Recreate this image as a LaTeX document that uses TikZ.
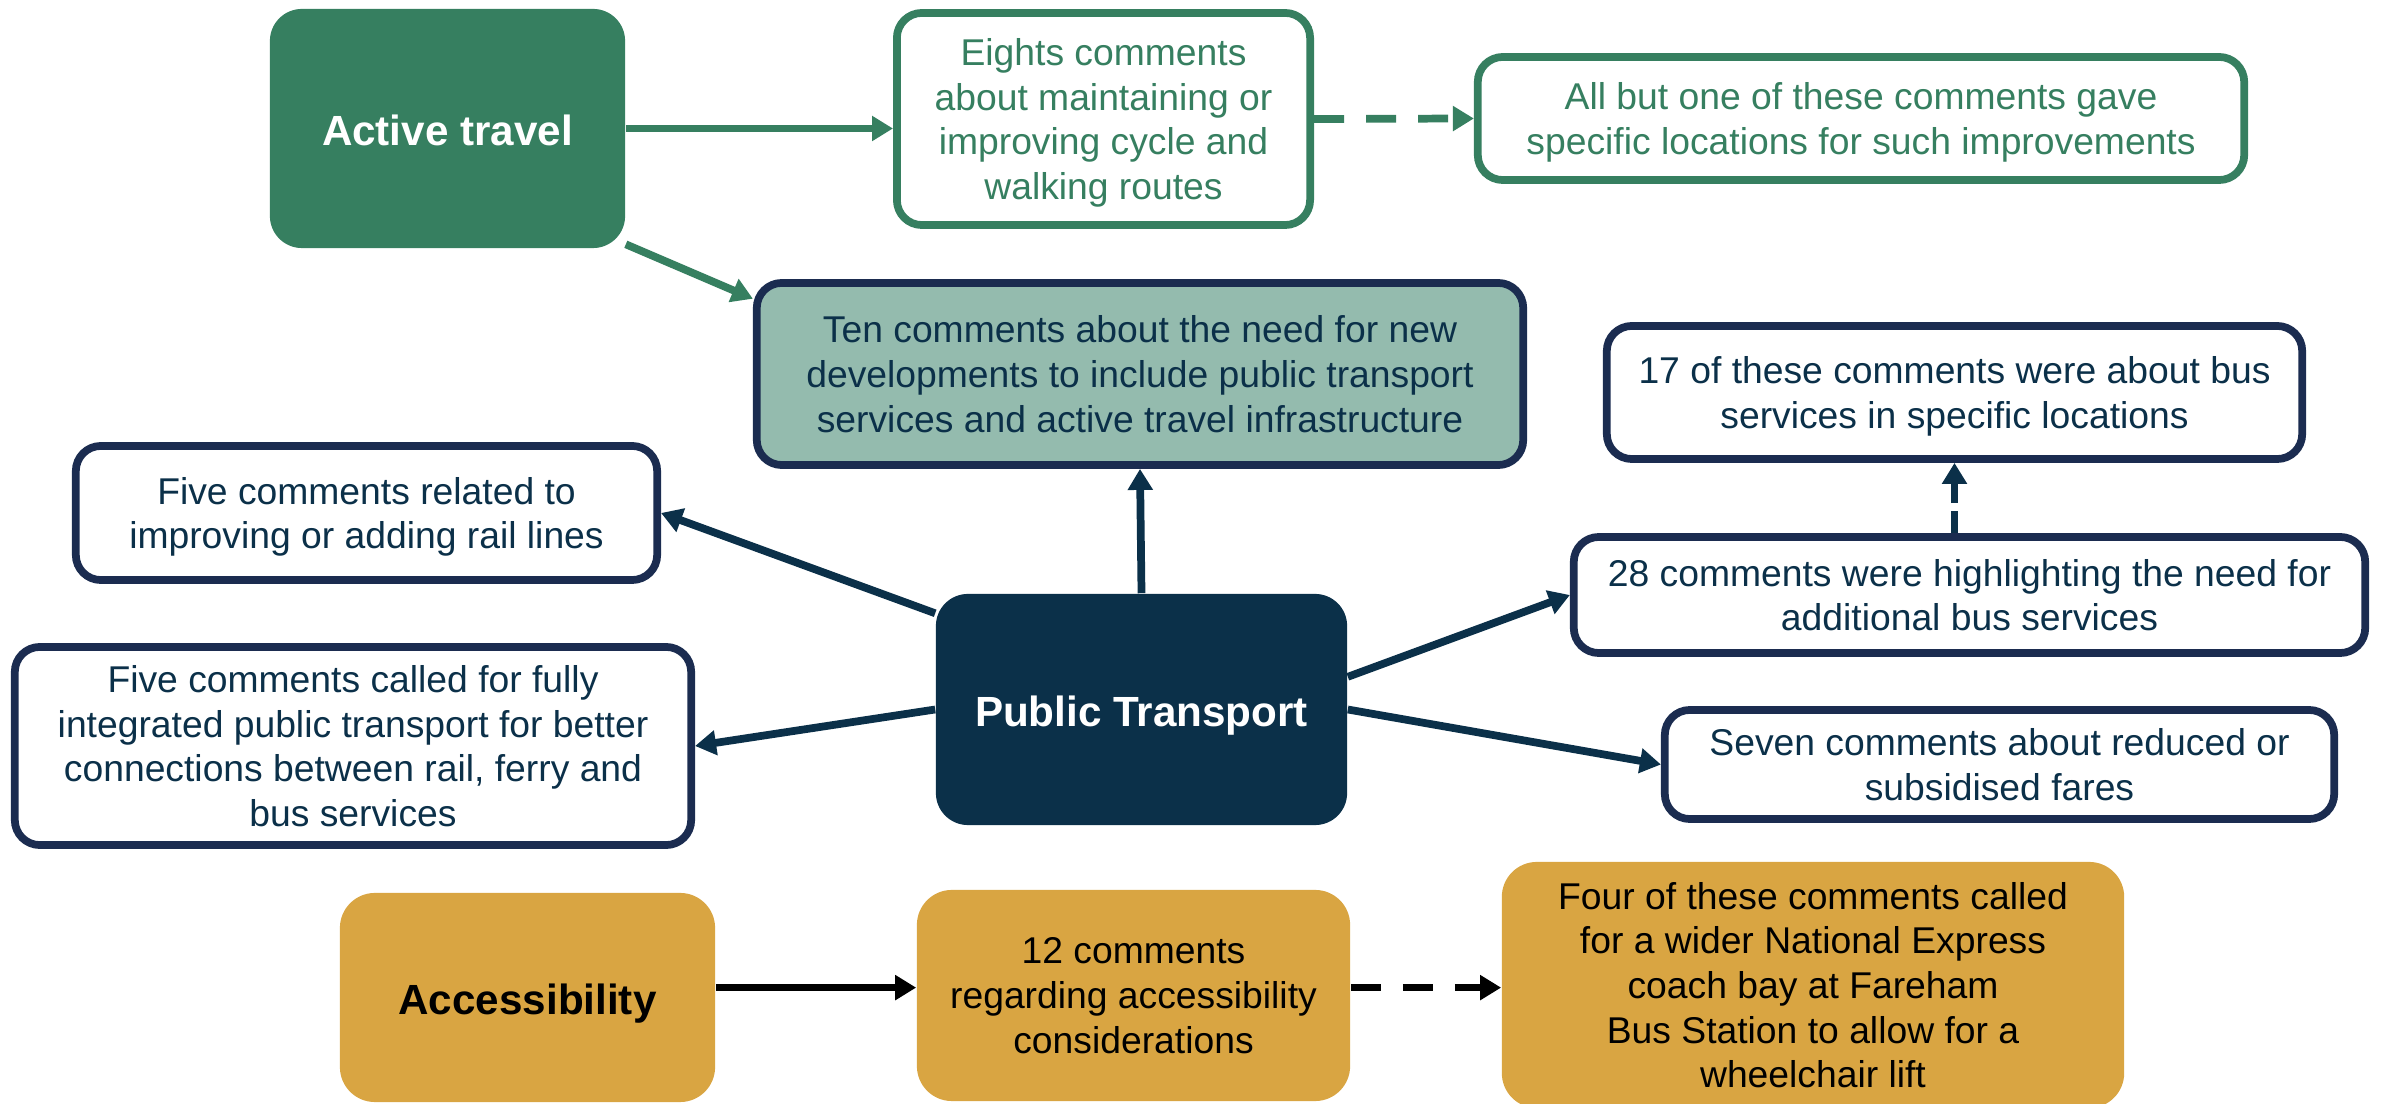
\documentclass[tikz,border=0pt]{standalone}
\usepackage{fontspec}
\setmainfont{Liberation Sans}
\usetikzlibrary{arrows.meta}
\definecolor{actgreen}{HTML}{367F60}
\definecolor{tealfill}{HTML}{94BBAE}
\definecolor{navyline}{HTML}{1B2C50}
\definecolor{ptnavy}{HTML}{0B3049}
\definecolor{accgold}{HTML}{D9A542}

\begin{document}
\begin{tikzpicture}[x=0.01cm, y=-0.01cm,
	hub/.style={rounded corners=0.32cm, inner sep=0pt, align=center, text height=1.06em, text depth=0.1em, font=\fontsize{12}{14.4}\selectfont\bfseries},
	note/.style={draw, line width=2.2pt, rounded corners=0.25cm, inner sep=0pt, align=center, text depth=-1.5pt, font=\fontsize{10.6}{12.7}\selectfont},
	goldnote/.style={fill=accgold, rounded corners=0.35cm, inner sep=0pt, align=center, text depth=-1.5pt, font=\fontsize{10.6}{12.7}\selectfont},
	link/.style={line width=2.2pt, -{Triangle[length=0.21cm,width=0.24cm]}},
	dashlink/.style={link, dash pattern=on 0.3cm off 0.22cm}]
		\clip (0,0) rectangle (2390,1104);
		% active travel
		\node[hub, fill=actgreen, text=white, minimum width=3.55cm, minimum height=2.39cm] (act) at (447.5,128.5) {Active travel};
		\node[note, draw=actgreen, fill=white, text=actgreen, minimum width=4.13cm, minimum height=2.12cm] (eights) at (1103.5,119) {Eights comments\\about maintaining or\\improving cycle and\\walking routes};
		\node[note, draw=actgreen, fill=white, text=actgreen, minimum width=7.66cm, minimum height=1.23cm] (allbut) at (1861,118.5) {All but one of these comments gave\\specific locations for such improvements};
		% public transport
		\node[note, draw=navyline, fill=tealfill, text=ptnavy, minimum width=7.66cm, minimum height=1.82cm] (ten) at (1140,374) {Ten comments about the need for new\\developments to include public transport\\services and active travel infrastructure};
		\node[note, draw=navyline, fill=white, text=ptnavy, minimum width=6.95cm, minimum height=1.33cm] (seventeen) at (1954.5,392.5) {17 of these comments were about bus\\services in specific locations};
		\node[note, draw=navyline, fill=white, text=ptnavy, minimum width=5.81cm, minimum height=1.34cm] (rail) at (366.5,513) {Five comments related to\\improving or adding rail lines};
		\node[hub, fill=ptnavy, text=white, minimum width=4.11cm, minimum height=2.31cm] (pt) at (1141.5,709.5) {Public Transport};
		\node[note, draw=navyline, fill=white, text=ptnavy, minimum width=7.91cm, minimum height=1.16cm] (twentyeight) at (1969.5,595) {28 comments were highlighting the need for\\additional bus services};
		\node[note, draw=navyline, fill=white, text=ptnavy, minimum width=6.76cm, minimum height=1.98cm] (integ) at (353,746) {Five comments called for fully\\integrated public transport for better\\connections between rail, ferry and\\bus services};
		\node[note, draw=navyline, fill=white, text=ptnavy, minimum width=6.69cm, minimum height=1.09cm] (seven) at (1999.5,764.5) {Seven comments about reduced or\\subsidised fares};
		% accessibility
		\node[hub, fill=accgold, text=black, rounded corners=0.35cm, minimum width=3.75cm, minimum height=2.09cm] (access) at (527.5,997.5) {Accessibility};
		\node[goldnote, minimum width=4.33cm, minimum height=2.11cm] (twelve) at (1133.5,995.5) {12 comments\\regarding accessibility\\considerations};
		\node[goldnote, minimum width=6.22cm, minimum height=2.46cm] (four) at (1813,985) {Four of these comments called\\for a wider National Express\\coach bay at Fareham\\Bus Station to allow for a\\wheelchair lift};
		%
		\draw [link, actgreen] (act.east) to (act.east -| eights.west);
		\draw [link, actgreen] (act.-33) to (ten.169);
		\draw [dashlink, actgreen] (eights.east) to (allbut.west);
		\draw [link, ptnavy] (pt.north) to (ten.south);
		\draw [link, ptnavy] (pt.155.5) to (rail.east);
		\draw [link, ptnavy] (pt.west) to (integ.east);
		\draw [link, ptnavy] (pt.9.5) to (twentyeight.west);
		\draw [link, ptnavy] (pt.east) to (seven.west);
		\draw [link, ptnavy, dash pattern=on 0.22cm off 0.08cm] (twentyeight.north -| seventeen.south) to (seventeen.south);
		\draw [link, black] (access.3.8) to (access.3.8 -| twelve.west);
		\draw [dashlink, black] (access.3.8 -| twelve.east) to (access.3.8 -| four.west);
\end{tikzpicture}
\end{document}
